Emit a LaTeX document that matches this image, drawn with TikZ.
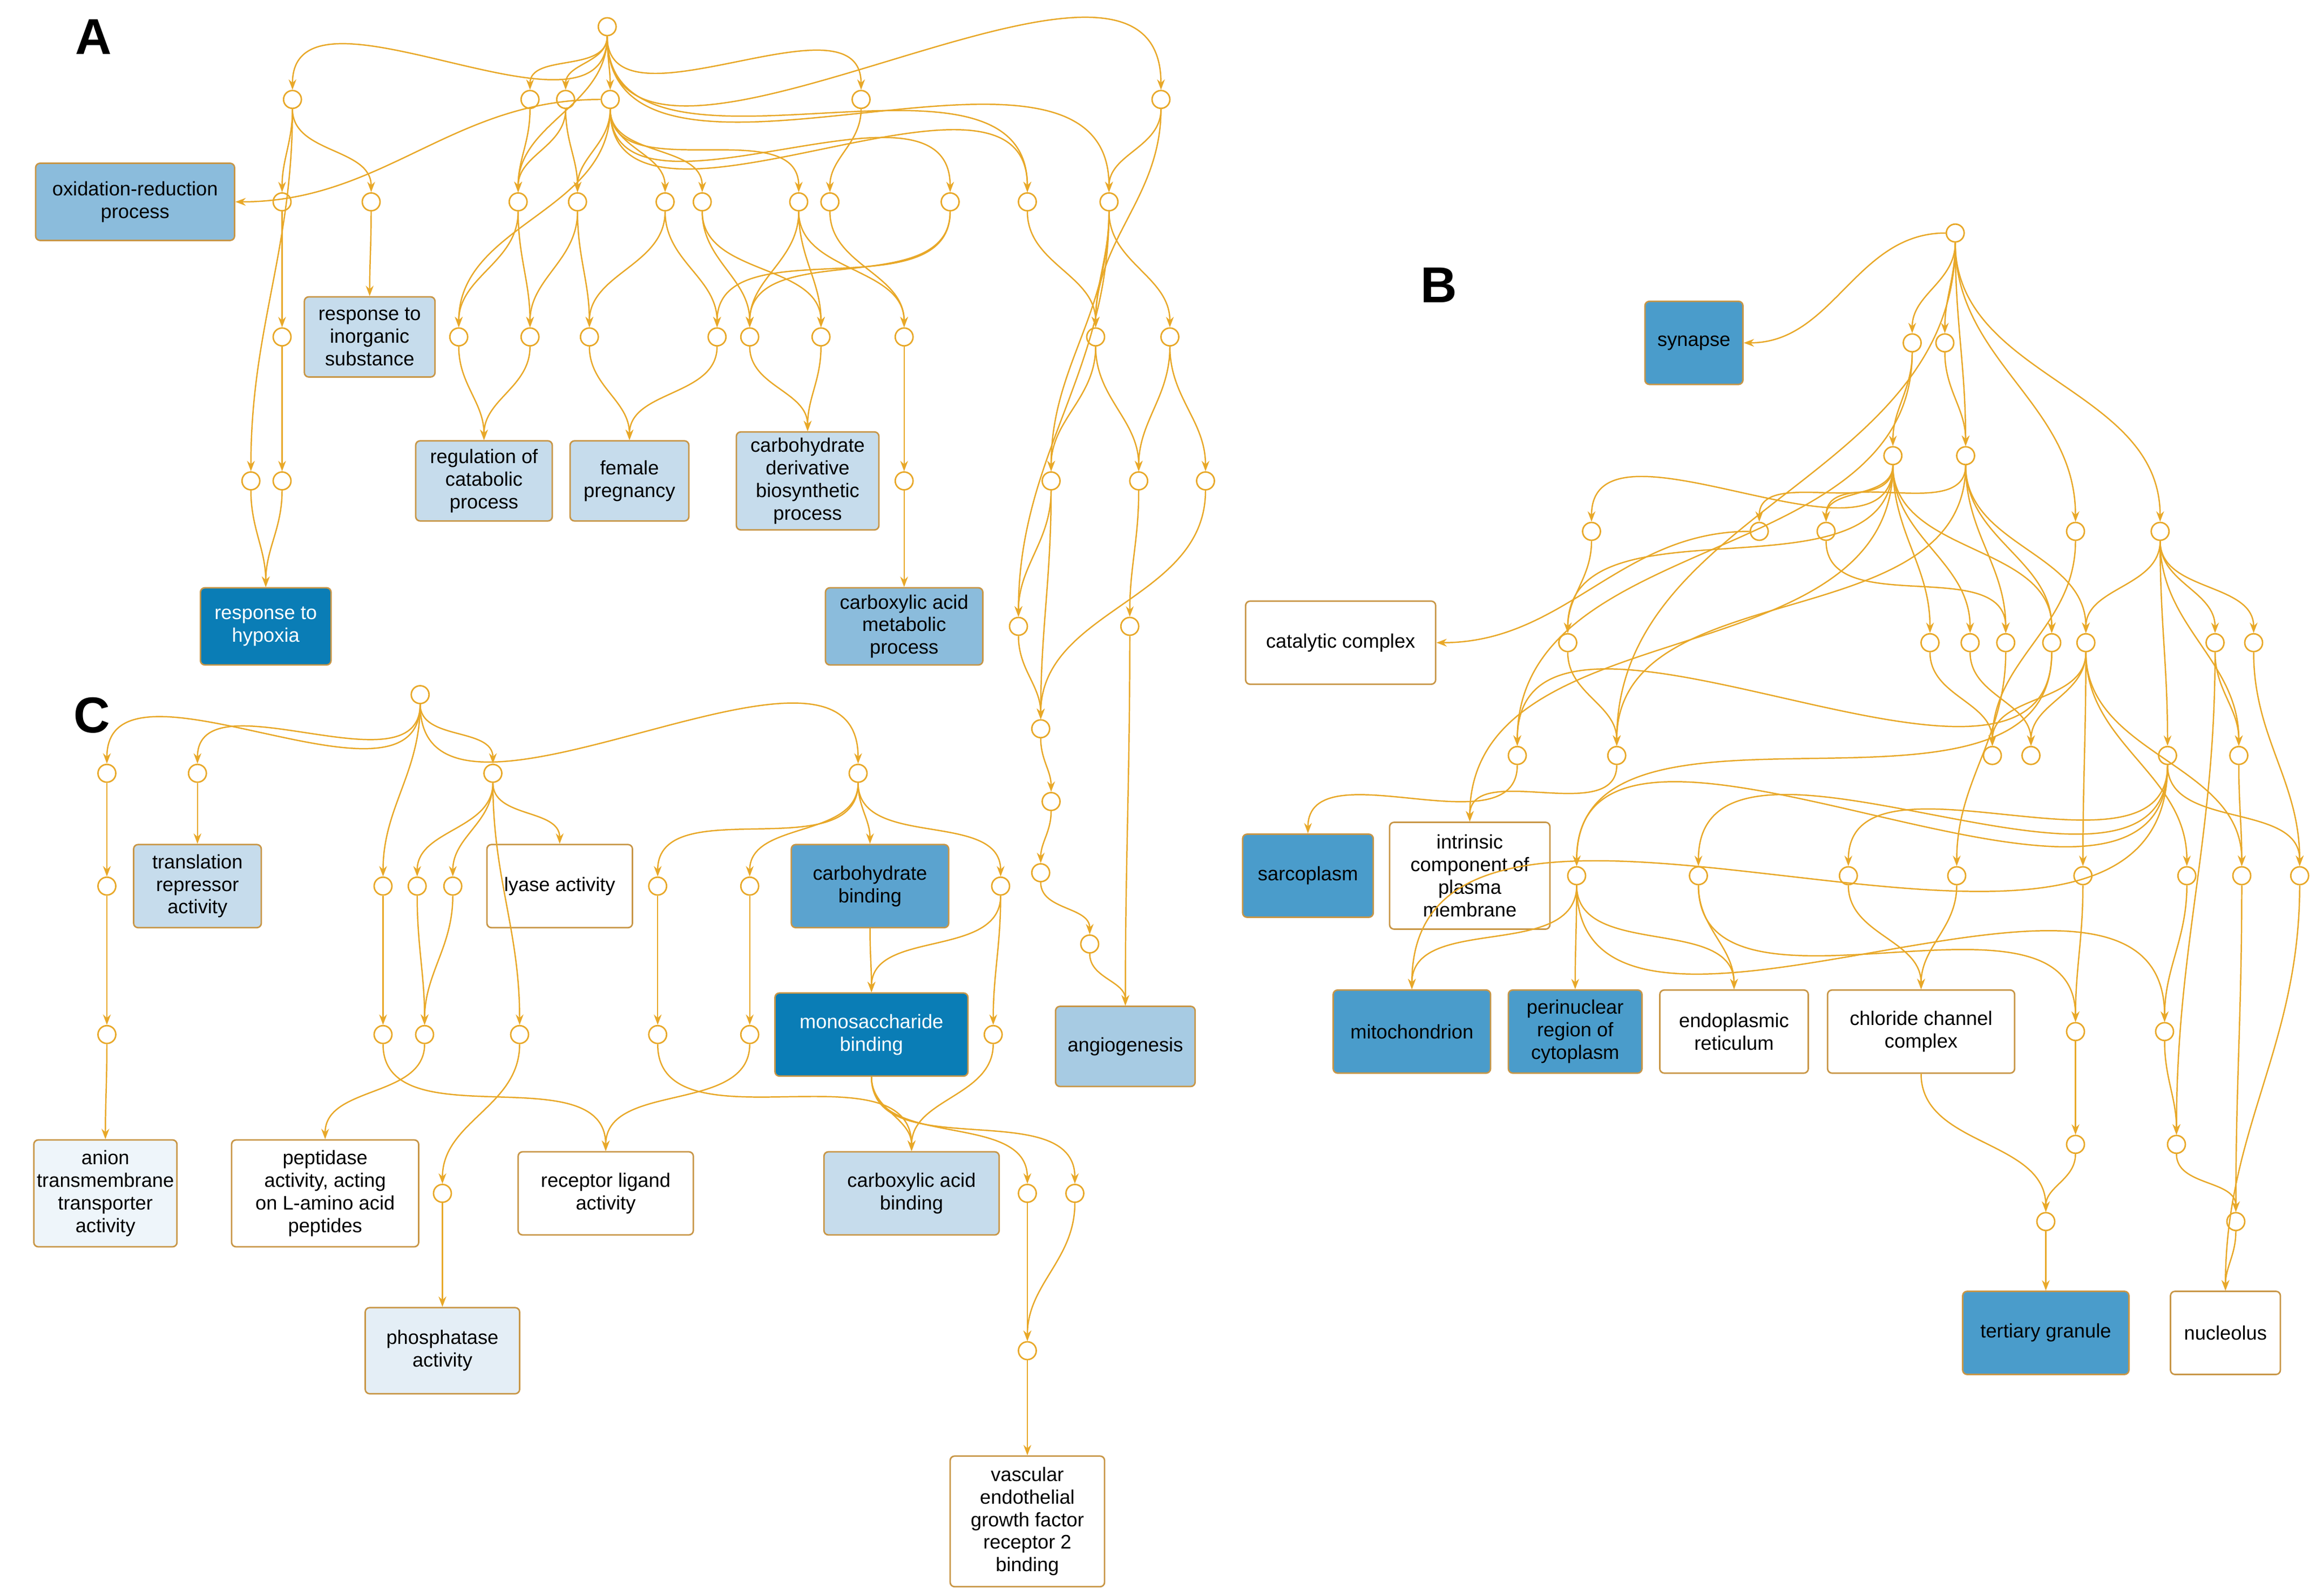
\documentclass[tikz,border=0pt]{standalone}
\usepackage{fontspec}
\setmainfont{Liberation Sans}
\usetikzlibrary{arrows.meta}
\definecolor{ed}{RGB}{232,168,40}
\definecolor{bd}{RGB}{200,150,70}
\definecolor{dk}{RGB}{10,125,182}
\definecolor{md}{RGB}{74,156,203}
\definecolor{mb}{RGB}{139,188,220}
\definecolor{lb}{RGB}{198,220,236}
\definecolor{ab}{RGB}{167,203,227}
\definecolor{cb}{RGB}{91,163,207}
\definecolor{vl}{RGB}{238,245,250}
\definecolor{pl}{RGB}{228,238,246}
\begin{document}
\begin{tikzpicture}[x=0.5pt,y=-0.5pt,
 c/.style={circle,draw=ed,fill=white,line width=0.5pt,minimum size=6pt,inner sep=0pt},
 bx/.style={draw=bd,rounded corners=1.5pt,line width=0.5pt,align=center,font=\fontsize{6.6}{7.6}\selectfont,inner sep=1pt},
 e/.style={draw=ed,line width=0.45pt,-{Stealth[length=3.5pt,width=2.6pt]},out=-90,in=90},
 lab/.style={font=\bfseries\fontsize{17}{17}\selectfont}]
\useasboundingbox (0,0) rectangle (1560,1075);
\node[lab] at (63,25) {A};
\node[lab] at (969,192) {B};
\node[lab] at (62,482) {C};
% ---------- A
\foreach \n/\x/\y in {a0/409/18,a1/197/67,a2/357/67,a3/381/67,a4/411/67,a5/580/67,a6/782/67,
a7/190/136,a8/250/136,a9/349/136,a10/389/136,a11/448/136,a12/473/136,a13/538/136,a14/559/136,a15/640/136,a16/692/136,a17/747/136,
a18/190/227,a19/309/227,a20/357/227,a21/397/227,a22/483/227,a23/505/227,a24/553/227,a25/609/227,a26/738/227,a27/788/227,
a28/169/324,a29/190/324,a30/609/324,a31/708/324,a32/767/324,a33/812/324,
a34/686/422,a35/761/422,a36/701/491,a37/708/540,a38/701/588,a39/734/636}
 \node[c] (\n) at (\x,\y) {};
\node[bx,fill=mb,minimum width=67pt,minimum height=26pt] (ox) at (91,136) {oxidation-reduction\\process};
\node[bx,fill=lb,minimum width=44pt,minimum height=27pt] (ri) at (249,227) {response to\\inorganic\\substance};
\node[bx,fill=lb,minimum width=46pt,minimum height=27pt] (rc) at (326,324) {regulation of\\catabolic\\process};
\node[bx,fill=lb,minimum width=40pt,minimum height=27pt] (fp) at (424,324) {female\\pregnancy};
\node[bx,fill=lb,minimum width=48pt,minimum height=33pt] (cd) at (544,324) {carbohydrate\\derivative\\biosynthetic\\process};
\node[bx,fill=mb,minimum width=53pt,minimum height=26pt] (cm) at (609,422) {carboxylic acid\\metabolic\\process};
\node[bx,fill=dk,text=white,minimum width=44pt,minimum height=26pt] (rh) at (179,422) {response to\\hypoxia};
\node[bx,fill=ab,minimum width=47pt,minimum height=27pt] (an) at (758,705) {angiogenesis};
\foreach \a/\b in {a0/a1,a0/a2,a0/a3,a0/a4,a0/a5,a0/a6,a0/a9,a0/a17,a0/a16,a1/a7,a1/a8,a1/a28,a7/a18,a18/a29,a8/ri,a28/rh,a29/rh,
a2/a9,a3/a9,a3/a10,a4/a10,a4/a11,a4/a12,a4/a13,a4/a15,a4/a16,a4/a19,a5/a14,a6/a17,a6/a26,a9/a19,a9/a20,a10/a20,a10/a21,a11/a21,a11/a22,
a12/a23,a12/a24,a13/a23,a13/a24,a13/a25,a14/a25,a15/a22,a15/a23,a16/a26,a19/rc,a20/rc,a21/fp,a22/fp,a23/cd,a24/cd,a25/a30,a30/cm,
a17/a26,a17/a27,a17/a31,a17/a34,a26/a31,a26/a32,a27/a32,a27/a33,a31/a34,a31/a36,a32/a35,a33/a36,a34/a36,a36/a37,a37/a38,a38/a39,a39/an,a35/an}
 \draw[e] (\a) to (\b);
\draw[e,out=180,in=0] (a4) to (ox);
% ---------- C
\foreach \n/\x/\y in {c0/283/468,c1/72/521,c2/133/521,c3/332/521,c4/578/521,
c5/72/597,c6/258/597,c7/281/597,c8/305/597,c9/443/597,c10/505/597,c11/674/597,
c12/72/697,c13/258/697,c14/286/697,c15/350/697,c16/443/697,c17/505/697,c18/669/697,
c19/298/804,c20/692/804,c21/724/804,c22/692/910}
 \node[c] (\n) at (\x,\y) {};
\node[bx,fill=lb,minimum width=43pt,minimum height=28pt] (tr) at (133,597) {translation\\repressor\\activity};
\node[bx,fill=white,minimum width=49pt,minimum height=28pt] (ly) at (377,597) {lyase activity};
\node[bx,fill=cb,minimum width=53pt,minimum height=28pt] (cb) at (586,597) {carbohydrate\\binding};
\node[bx,fill=dk,text=white,minimum width=65pt,minimum height=28pt] (mo) at (587,697) {monosaccharide\\binding};
\node[bx,fill=vl,minimum width=48pt,minimum height=36pt] (at) at (71,804) {anion\\transmembrane\\transporter\\activity};
\node[bx,fill=white,minimum width=63pt,minimum height=36pt] (pe) at (219,804) {peptidase\\activity, acting\\on L-amino acid\\peptides};
\node[bx,fill=white,minimum width=59pt,minimum height=28pt] (rl) at (408,804) {receptor ligand\\activity};
\node[bx,fill=lb,minimum width=59pt,minimum height=28pt] (ca) at (614,804) {carboxylic acid\\binding};
\node[bx,fill=pl,minimum width=52pt,minimum height=29pt] (ph) at (298,910) {phosphatase\\activity};
\node[bx,fill=white,minimum width=52pt,minimum height=44pt] (ve) at (692,1025) {vascular\\endothelial\\growth factor\\receptor 2\\binding};
\foreach \a/\b in {c0/c1,c0/c2,c0/c3,c0/c4,c0/c6,c1/c5,c2/tr,c5/c12,c12/at,c3/c7,c3/c8,c3/c15,c3/ly,c6/c13,c7/c14,c8/c14,c13/rl,c14/pe,c15/c19,c19/ph,
c4/c9,c4/c10,c4/cb,c4/c11,c9/c16,c16/ca,c10/c17,c17/rl,cb/mo,c11/c18,c11/mo,c18/ca,mo/ca,mo/c20,mo/c21,c20/c22,c21/c22,c22/ve}
 \draw[e] (\a) to (\b);
% ---------- B
\foreach \n/\x/\y in {b0/1317/157,b1/1288/231,b2/1310/231,b3/1275/307,b4/1324/307,
b5/1072/358,b6/1185/358,b7/1230/358,b8/1398/358,b9/1455/358,
b10/1056/433,b11/1300/433,b12/1327/433,b13/1351/433,b14/1382/433,b15/1405/433,b16/1492/433,b17/1518/433,
b18/1022/509,b19/1089/509,b20/1342/509,b21/1368/509,b22/1460/509,b23/1508/509,
b24/1062/590,b25/1144/590,b26/1245/590,b27/1318/590,b28/1403/590,b29/1473/590,b30/1510/590,b31/1549/590,
b32/1398/695,b33/1458/695,b34/1398/771,b35/1466/771,b36/1378/823,b37/1506/823}
 \node[c] (\n) at (\x,\y) {};
\node[bx,fill=md,minimum width=33pt,minimum height=28pt] (sy) at (1141,231) {synapse};
\node[bx,fill=white,minimum width=64pt,minimum height=28pt] (cc) at (903,433) {catalytic complex};
\node[bx,fill=md,minimum width=44pt,minimum height=28pt] (sa) at (881,590) {sarcoplasm};
\node[bx,fill=white,minimum width=54pt,minimum height=36pt] (ic) at (990,590) {intrinsic\\component of\\plasma\\membrane};
\node[bx,fill=md,minimum width=53pt,minimum height=28pt] (mi) at (951,695) {mitochondrion};
\node[bx,fill=md,minimum width=45pt,minimum height=28pt] (pr) at (1061,695) {perinuclear\\region of\\cytoplasm};
\node[bx,fill=white,minimum width=50pt,minimum height=28pt] (er) at (1168,695) {endoplasmic\\reticulum};
\node[bx,fill=white,minimum width=63pt,minimum height=28pt] (ch) at (1294,695) {chloride channel\\complex};
\node[bx,fill=md,minimum width=56pt,minimum height=28pt] (tg) at (1378,898) {tertiary granule};
\node[bx,fill=white,minimum width=37pt,minimum height=28pt] (nu) at (1499,898) {nucleolus};
\draw[e,out=180,in=0] (b0) to (sy);
\draw[e,out=180,in=0] (b6) to (cc);
\foreach \a/\b in {b0/b1,b0/b2,b0/b4,b0/b9,b0/b8,b0/b19,b1/b3,b2/b4,b1/b18,b3/b5,b3/b6,b3/b7,b3/b10,b3/b11,b3/b12,b3/b14,b3/ic,
b4/b7,b4/b13,b4/b14,b4/b15,b4/b19,b5/b10,b10/b19,b7/b13,b8/b20,b9/b15,b9/b16,b9/b17,b9/b22,b9/b23,
b15/b20,b15/b21,b15/b28,b15/b29,b15/b30,b11/b20,b12/b21,b13/b27,b14/b18,b14/b24,b18/sa,b19/ic,
b24/mi,b24/pr,b24/er,b24/b33,b25/er,b25/b32,b26/ch,b27/ch,b22/b24,b22/b25,b22/b26,b22/b31,b22/mi,
b28/b32,b32/b34,b34/b36,b36/tg,ch/b36,b29/b33,b33/b35,b35/b37,b37/nu,b30/b37,b16/b23,b23/b30,b17/b31,b31/nu,b16/b35}
 \draw[e] (\a) to (\b);
\end{tikzpicture}
\end{document}
